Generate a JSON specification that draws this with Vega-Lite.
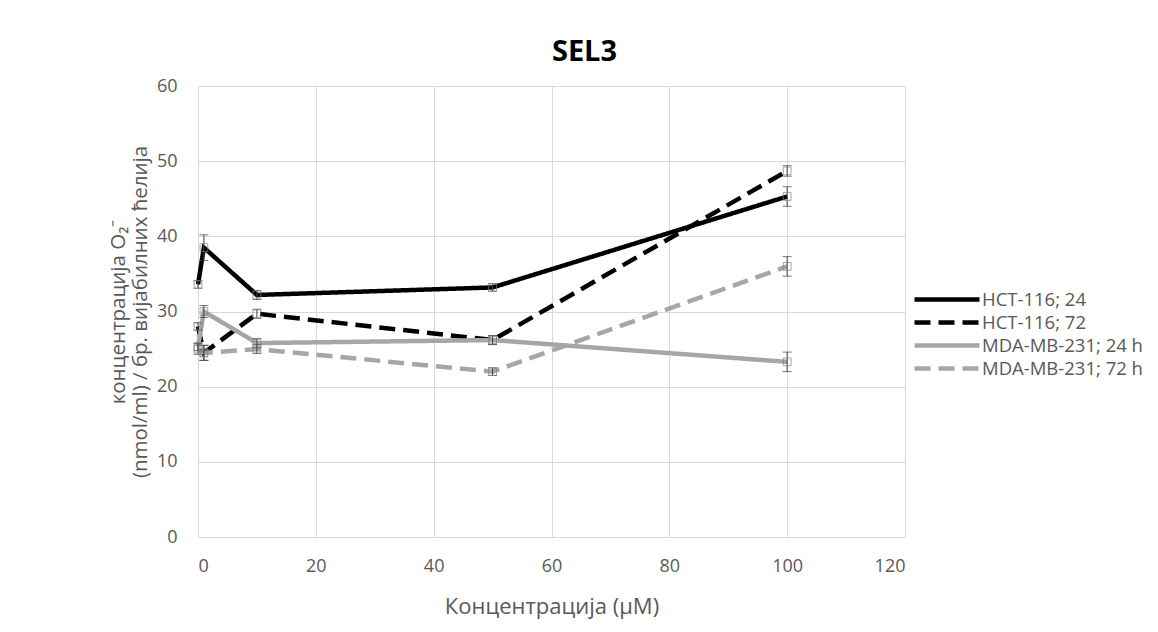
{
  "$schema": "https://vega.github.io/schema/vega-lite/v6.json",
  "width": 707,
  "height": 451,
  "autosize": "none",
  "padding": {"left": 198, "top": 86, "right": 253, "bottom": 95},
  "background": "white",
  "config": {
    "font": "Open Sans",
    "view": {"stroke": null},
    "axis": {"labelColor": "#595959", "titleColor": "#595959", "labelFontSize": 18, "titleFontSize": 20.5, "titleFontWeight": "normal", "gridColor": "#d9d9d9", "domain": false, "ticks": false}
  },
  "title": {"text": "SEL3", "fontSize": 29, "fontWeight": "bold", "color": "#000000", "anchor": "middle", "dx": 33, "offset": 10, "font": "Open Sans"},
  "data": {"values": [
    {"series": "HCT-116; 24", "x": 0, "y": 33.6, "lo": 33.1, "hi": 34.1},
    {"series": "HCT-116; 24", "x": 1, "y": 38.5, "lo": 36.8, "hi": 40.2},
    {"series": "HCT-116; 24", "x": 10, "y": 32.2, "lo": 31.6, "hi": 32.8},
    {"series": "HCT-116; 24", "x": 50, "y": 33.2, "lo": 32.7, "hi": 33.7},
    {"series": "HCT-116; 24", "x": 100, "y": 45.3, "lo": 44.0, "hi": 46.6},
    {"series": "HCT-116; 72", "x": 0, "y": 28.0, "lo": 27.5, "hi": 28.5},
    {"series": "HCT-116; 72", "x": 1, "y": 24.5, "lo": 23.5, "hi": 25.5},
    {"series": "HCT-116; 72", "x": 10, "y": 29.7, "lo": 29.1, "hi": 30.3},
    {"series": "HCT-116; 72", "x": 50, "y": 26.2, "lo": 25.6, "hi": 26.8},
    {"series": "HCT-116; 72", "x": 100, "y": 48.7, "lo": 48.0, "hi": 49.4},
    {"series": "MDA-MB-231; 24 h", "x": 0, "y": 25.3, "lo": 24.8, "hi": 25.8},
    {"series": "MDA-MB-231; 24 h", "x": 1, "y": 30.0, "lo": 29.2, "hi": 30.8},
    {"series": "MDA-MB-231; 24 h", "x": 10, "y": 25.8, "lo": 25.2, "hi": 26.4},
    {"series": "MDA-MB-231; 24 h", "x": 50, "y": 26.2, "lo": 25.6, "hi": 26.8},
    {"series": "MDA-MB-231; 24 h", "x": 100, "y": 23.3, "lo": 22.0, "hi": 24.6},
    {"series": "MDA-MB-231; 72 h", "x": 0, "y": 25.0, "lo": 24.3, "hi": 25.7},
    {"series": "MDA-MB-231; 72 h", "x": 1, "y": 24.5, "lo": 23.5, "hi": 25.5},
    {"series": "MDA-MB-231; 72 h", "x": 10, "y": 25.0, "lo": 24.4, "hi": 25.6},
    {"series": "MDA-MB-231; 72 h", "x": 50, "y": 22.0, "lo": 21.5, "hi": 22.5},
    {"series": "MDA-MB-231; 72 h", "x": 100, "y": 36.0, "lo": 34.7, "hi": 37.3}
  ]},
  "layer": [
    {
      "mark": {"type": "line", "strokeCap": "butt"},
      "encoding": {
        "x": {"field": "x", "type": "quantitative", "scale": {"domain": [0, 120]}, "axis": {"values": [0, 20, 40, 60, 80, 100, 120], "title": "Концентрација (µM)", "titleFontSize": 22, "labelPadding": 20, "titlePadding": 21}},
        "y": {"field": "y", "type": "quantitative", "scale": {"domain": [0, 60]}, "axis": {"values": [0, 10, 20, 30, 40, 50, 60], "title": ["концентрација O₂⁻", "(nmol/ml) / бр. вијабилних ћелија"], "titleLineHeight": 22, "labelPadding": 21, "titlePadding": 6}},
        "color": {"field": "series", "type": "nominal", "scale": {"domain": ["HCT-116; 24", "HCT-116; 72", "MDA-MB-231; 24 h", "MDA-MB-231; 72 h"], "range": ["#000000", "#000000", "#a6a6a6", "#a6a6a6"]}, "legend": {"orient": "none", "legendX": 714, "legendY": 201, "title": null, "labelFontSize": 18.5, "labelLimit": 400, "labelColor": "#595959", "symbolSize": 400, "symbolType": "M-1,0L5.5,0", "rowPadding": 1, "labelOffset": 45, "font": "Open Sans"}},
        "strokeDash": {"field": "series", "type": "nominal", "scale": {"domain": ["HCT-116; 24", "HCT-116; 72", "MDA-MB-231; 24 h", "MDA-MB-231; 72 h"], "range": [[1, 0], [16, 8], [1, 0], [16, 8]]}},
        "strokeWidth": {"field": "series", "type": "nominal", "scale": {"domain": ["HCT-116; 24", "HCT-116; 72", "MDA-MB-231; 24 h", "MDA-MB-231; 72 h"], "range": [4.5, 4.5, 2.8, 4.5]}}
      }
    },
    {
      "mark": {"type": "rule", "color": "#404040", "strokeWidth": 1},
      "encoding": {
        "x": {"field": "x", "type": "quantitative"},
        "y": {"field": "lo", "type": "quantitative"},
        "y2": {"field": "hi"}
      }
    },
    {
      "mark": {"type": "tick", "orient": "horizontal", "color": "#404040", "size": 9, "thickness": 1},
      "encoding": {
        "x": {"field": "x", "type": "quantitative"},
        "y": {"field": "lo", "type": "quantitative"}
      }
    },
    {
      "mark": {"type": "tick", "orient": "horizontal", "color": "#404040", "size": 9, "thickness": 1},
      "encoding": {
        "x": {"field": "x", "type": "quantitative"},
        "y": {"field": "hi", "type": "quantitative"}
      }
    },
    {
      "mark": {"type": "point", "shape": "square", "filled": false, "size": 60, "color": "#7f7f7f", "strokeWidth": 1},
      "encoding": {
        "x": {"field": "x", "type": "quantitative"},
        "y": {"field": "y", "type": "quantitative"}
      }
    }
  ]
}
